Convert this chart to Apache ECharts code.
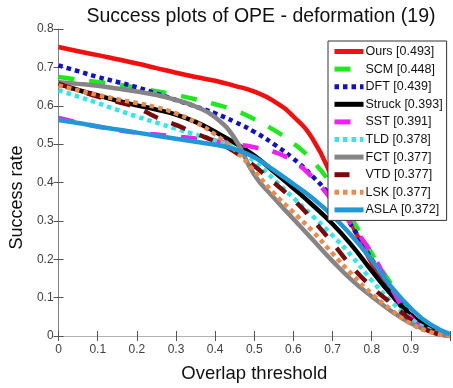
<!DOCTYPE html>
<html lang="en">
  <head>
    <meta charset="UTF-8" />
    <title>Success plots of OPE - deformation (19)</title>
    <script src="https://cdn.jsdelivr.net/npm/echarts@6.0.0/dist/echarts.min.js"></script>
    <style>
      html, body {
        margin: 0;
        padding: 0;
        background: #ffffff;
      }
      #chart {
        width: 453px;
        height: 388px;
      }
    </style>
  </head>
  <body>
    <div id="chart"></div>

    <script>
      // overlap thresholds (x axis)
      var thresholds = [0, 0.05, 0.1, 0.15, 0.2, 0.25, 0.3, 0.35, 0.4, 0.45, 0.5,
                        0.55, 0.6, 0.65, 0.7, 0.75, 0.8, 0.85, 0.9, 0.95, 1];

      // success rate of each tracker
      var ours   = [0.753, 0.742, 0.732, 0.721, 0.710, 0.698, 0.686, 0.675, 0.665, 0.652, 0.637, 0.612, 0.572, 0.512, 0.410, 0.290, 0.190, 0.110, 0.050, 0.015, 0.000];
      var scm    = [0.675, 0.668, 0.662, 0.655, 0.647, 0.638, 0.628, 0.617, 0.604, 0.588, 0.565, 0.537, 0.502, 0.455, 0.390, 0.305, 0.215, 0.135, 0.065, 0.020, 0.000];
      var dft    = [0.705, 0.690, 0.675, 0.662, 0.648, 0.632, 0.615, 0.598, 0.580, 0.558, 0.532, 0.500, 0.462, 0.415, 0.358, 0.285, 0.200, 0.125, 0.055, 0.015, 0.000];
      var struck = [0.657, 0.641, 0.627, 0.613, 0.601, 0.590, 0.577, 0.558, 0.532, 0.503, 0.470, 0.428, 0.385, 0.340, 0.292, 0.235, 0.170, 0.108, 0.055, 0.020, 0.000];
      var sst    = [0.568, 0.556, 0.546, 0.537, 0.530, 0.525, 0.520, 0.515, 0.508, 0.500, 0.492, 0.480, 0.455, 0.412, 0.352, 0.288, 0.215, 0.125, 0.048, 0.012, 0.000];
      var tld    = [0.640, 0.624, 0.607, 0.589, 0.572, 0.556, 0.540, 0.525, 0.510, 0.490, 0.455, 0.408, 0.360, 0.312, 0.262, 0.207, 0.145, 0.090, 0.045, 0.015, 0.000];
      var fct    = [0.661, 0.657, 0.652, 0.645, 0.637, 0.628, 0.615, 0.598, 0.570, 0.515, 0.420, 0.360, 0.305, 0.250, 0.195, 0.145, 0.103, 0.065, 0.033, 0.012, 0.000];
      var vtd    = [0.658, 0.640, 0.624, 0.610, 0.595, 0.570, 0.550, 0.528, 0.507, 0.480, 0.443, 0.400, 0.355, 0.302, 0.242, 0.180, 0.128, 0.085, 0.042, 0.012, 0.000];
      var lsk    = [0.653, 0.640, 0.628, 0.617, 0.607, 0.596, 0.580, 0.557, 0.525, 0.485, 0.430, 0.372, 0.322, 0.272, 0.215, 0.160, 0.110, 0.068, 0.032, 0.010, 0.000];
      var asla   = [0.563, 0.555, 0.546, 0.538, 0.530, 0.522, 0.514, 0.506, 0.498, 0.487, 0.466, 0.432, 0.396, 0.358, 0.313, 0.260, 0.198, 0.128, 0.072, 0.030, 0.005];

      var trackerNames = ['Ours [0.493]', 'SCM [0.448]', 'DFT [0.439]', 'Struck [0.393]', 'SST [0.391]',
                          'TLD [0.378]', 'FCT [0.377]', 'VTD [0.377]', 'LSK [0.377]', 'ASLA [0.372]'];
      var trackerValues = [ours, scm, dft, struck, sst, tld, fct, vtd, lsk, asla];

      var lineColors = ['#f01010', '#1ee81e', '#1010c8', '#000000', '#f020f0',
                        '#30e8e8', '#858585', '#7a0a0a', '#ec8a4c', '#2097d6'];
      var lineTypes = ['solid', [16, 15], [4.5, 4], 'solid', [16, 15],
                       [4.5, 4], 'solid', [15, 15], [4.5, 4], 'solid'];

      var fontName = '"Liberation Sans", Arial, sans-serif';

      var chart = echarts.init(document.getElementById('chart'), null, { renderer: 'canvas' });

      var seriesList = trackerNames.map(function (name, i) {
        return {
          name: name,
          type: 'line',
          symbol: 'none',
          smooth: 0.5,
          animation: false,
          data: thresholds.map(function (t, k) { return [t, trackerValues[i][k]]; }),
          lineStyle: {
            color: lineColors[i],
            width: 4.5,
            type: lineTypes[i],
            cap: 'butt'
          },
          itemStyle: { color: lineColors[i] },
          xAxisIndex: 0,
          yAxisIndex: 0
        };
      });

      var tickStyle = { inside: true, length: 5, lineStyle: { color: '#555555', width: 1 } };

      var option = {
        backgroundColor: '#ffffff',
        animation: false,
        title: {
          text: 'Success plots of OPE - deformation (19)',
          left: 256,
          textAlign: 'center',
          top: 2,
          textStyle: { fontFamily: fontName, fontSize: 19.5, fontWeight: 'normal', color: '#111111' }
        },
        grid: { left: 57.5, right: -3, top: 29, bottom: 50 },
        legend: {
          orient: 'vertical',
          left: 328,
          top: 41,
          padding: [4, 4, 4, 4],
          itemWidth: 29,
          itemHeight: 12,
          itemGap: 4.6,
          backgroundColor: '#ffffff',
          borderColor: '#333333',
          borderWidth: 1,
          borderRadius: 0,
          textStyle: { fontFamily: fontName, fontSize: 12.5, color: '#111111', padding: [0, 0, 0, -3] },
          lineStyle: { width: 5 },
          itemStyle: { color: 'transparent', borderColor: 'transparent', borderWidth: 0, opacity: 0 },
          data: trackerNames
        },
        xAxis: [
          {
            type: 'value',
            min: 0,
            max: 1,
            interval: 0.1,
            name: 'Overlap threshold',
            nameLocation: 'middle',
            nameGap: 28,
            nameTextStyle: { fontFamily: fontName, fontSize: 18.5, color: '#111111' },
            axisLine: { show: true, lineStyle: { color: '#808080', width: 1 } },
            axisTick: tickStyle,
            splitLine: { show: false },
            axisLabel: {
              fontFamily: fontName,
              fontSize: 12,
              color: '#404040',
              margin: 8,
              formatter: function (v) { return v >= 1 ? '' : String(v); }
            }
          },
          {
            type: 'value',
            position: 'top',
            min: 0,
            max: 1,
            interval: 0.1,
            axisLine: { show: true, lineStyle: { color: '#b0b0b0', width: 1 } },
            axisTick: tickStyle,
            axisLabel: { show: false },
            splitLine: { show: false }
          }
        ],
        yAxis: [
          {
            type: 'value',
            min: 0,
            max: 0.8,
            interval: 0.1,
            name: 'Success rate',
            nameLocation: 'middle',
            nameGap: 27,
            nameRotate: 90,
            nameTextStyle: { fontFamily: fontName, fontSize: 18, color: '#111111', padding: [0, 30, 0, 0] },
            axisLine: { show: true, lineStyle: { color: '#808080', width: 1 } },
            axisTick: tickStyle,
            splitLine: { show: false },
            axisLabel: { fontFamily: fontName, fontSize: 12, color: '#404040', margin: 5 }
          },
          {
            type: 'value',
            position: 'right',
            min: 0,
            max: 0.8,
            interval: 0.1,
            axisLine: { show: false },
            axisTick: tickStyle,
            axisLabel: { show: false },
            splitLine: { show: false }
          }
        ],
        series: seriesList
      };

      chart.setOption(option);
    </script>
  </body>
</html>
